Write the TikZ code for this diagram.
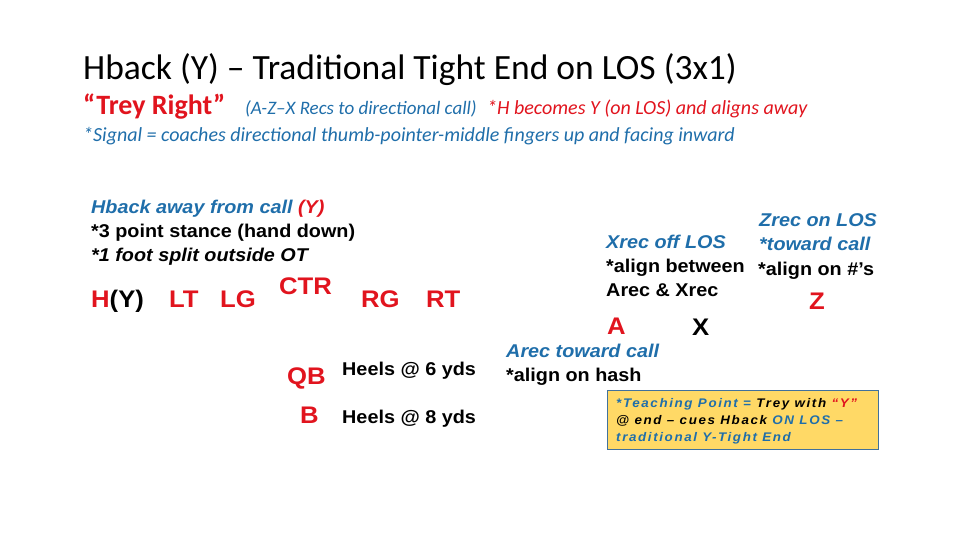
\documentclass[tikz,border=0pt]{standalone}
\usepackage{fontspec}
\setmainfont{Liberation Sans}[FakeStretch=1.07]
\newfontfamily\titlefont{Carlito}
\definecolor{tblue}{RGB}{31,110,170}
\definecolor{tred}{RGB}{225,20,30}
\definecolor{boxfill}{RGB}{255,217,102}
\definecolor{boxline}{RGB}{65,113,156}
\tikzset{
  txt/.style={anchor=base west, inner sep=0pt, font=\fontsize{18.5}{20}\selectfont\bfseries},
  btxt/.style={txt, text=tblue, font=\fontsize{18.5}{20}\selectfont\bfseries\itshape},
  player/.style={anchor=base west, inner sep=0pt, text=tred, font=\fontsize{24}{26}\selectfont\bfseries},
  ttl/.style={anchor=base west, inner sep=0pt},
}
\begin{document}
\begin{tikzpicture}[x=1pt,y=-1pt]
\useasboundingbox (0,0) rectangle (960,540);
% title
\node[ttl, font=\titlefont\fontsize{35.5}{38}\selectfont] (title) at (83,80) {Hback (Y) – Traditional Tight End on LOS (3x1)};
\node[ttl, text=tred, font=\titlefont\fontsize{28}{30}\selectfont\bfseries] (trey) at (83,115) {“Trey Right”};
\node[ttl, text=tblue, font=\titlefont\fontsize{19}{20}\selectfont\itshape] (recs) at (245,115) {(A-Z–X Recs to directional call)};
\node[ttl, text=tred, font=\titlefont\fontsize{20}{20}\selectfont\itshape] (hbec) at (487,115) {*H becomes Y (on LOS) and aligns away};
\node[ttl, text=tblue, font=\titlefont\fontsize{20}{20}\selectfont\itshape] (signal) at (83,142) {*Signal = coaches directional thumb-pointer-middle fingers up and facing inward};
% left notes
\node[btxt] (hb1) at (91,213) {Hback away from call \textcolor{tred}{(Y)}};
\node[txt] (hb2) at (91,237) {*3 point stance (hand down)};
\node[txt, font=\fontsize{18.5}{20}\selectfont\bfseries\itshape] (hb3) at (91,261) {*1 foot split outside OT};
% line
\node[player] (H) at (91,307) {H\textcolor{black}{(Y)}};
\node[player] (LT) at (169,307) {LT};
\node[player] (LG) at (220,307) {LG};
\node[player] (CTR) at (279,294) {CTR};
\node[player] (RG) at (361,307) {RG};
\node[player] (RT) at (426,307) {RT};
\node[player] (QB) at (287,384) {QB};
\node[txt] (h6) at (342,375) {Heels @ 6 yds};
\node[player] (B) at (300,423) {B};
\node[txt] (h8) at (342,423) {Heels @ 8 yds};
% right
\node[btxt] (x1) at (606,248) {Xrec off LOS};
\node[txt] (x2) at (606,272) {*align between};
\node[txt] (x3) at (606,296) {Arec \& Xrec};
\node[btxt] (z1) at (759,226) {Zrec on LOS};
\node[btxt] (z2) at (759,250) {*toward call};
\node[txt] (z3) at (758,275) {*align on \#’s};
\node[player] (Z) at (809,309) {Z};
\node[player] (A) at (607,334) {A};
\node[player, text=black] (X) at (692,335) {X};
\node[btxt] (a1) at (506,357) {Arec toward call};
\node[txt] (a2) at (506,381) {*align on hash};
% box
\node[draw=boxline, fill=boxfill, line width=1pt, anchor=north west, minimum width=271pt, minimum height=59pt, inner sep=0pt] (box) at (607,390) {};
\node[anchor=north west, inner sep=0pt, align=left, font=\fontsize{12.5}{17}\selectfont\bfseries\itshape\addfontfeature{LetterSpace=13}] (tp) at (616,398)
{\textcolor{tblue}{*Teaching Point =} Trey with \textcolor{tred}{“Y”}\\
@ end – cues Hback \textcolor{tblue}{ON LOS –}\\
\textcolor{tblue}{traditional Y-Tight End}};
\end{tikzpicture}
\end{document}
